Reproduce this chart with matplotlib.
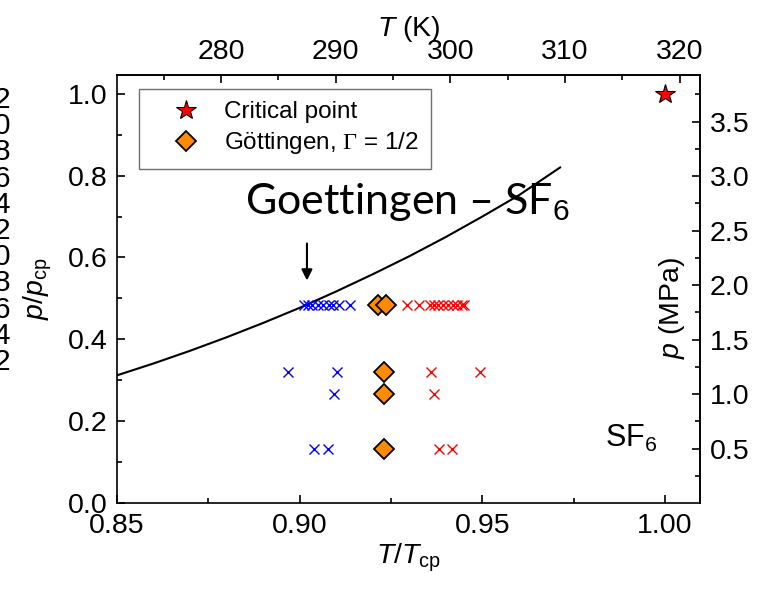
import matplotlib
matplotlib.use("Agg")
import matplotlib.pyplot as plt
from matplotlib.ticker import MultipleLocator, FormatStrFormatter, FixedLocator

plt.rcParams['font.family'] = ['Liberation Sans', 'DejaVu Sans']
plt.rcParams['mathtext.fontset'] = 'custom'
plt.rcParams['mathtext.rm'] = 'Liberation Sans'
plt.rcParams['mathtext.it'] = 'Liberation Sans:italic'
plt.rcParams['mathtext.sf'] = 'Liberation Serif'

# ---- data ----
Tc = 318.72   # K
pc = 3.755    # MPa

curve_x = [0.85, 0.86, 0.87, 0.88, 0.89, 0.90, 0.91, 0.92, 0.93, 0.94, 0.95, 0.96, 0.9713]
curve_y = [0.312, 0.341, 0.372, 0.405, 0.440, 0.477, 0.517, 0.559, 0.603, 0.650, 0.700, 0.752, 0.820]

crit_x = [1.0]
crit_y = [1.0]

gott_x = [0.9215, 0.9237, 0.9232, 0.9232, 0.9232]
gott_y = [0.483, 0.483, 0.320, 0.266, 0.132]

blue_x = [0.9012, 0.9024, 0.9035, 0.9051, 0.9064, 0.9079, 0.9092, 0.9107, 0.9138,
          0.8968, 0.9103, 0.9095, 0.9040, 0.9078]
blue_y = [0.483] * 9 + [0.320, 0.320, 0.266, 0.132, 0.132]

red_x = [0.9295, 0.9327, 0.9357, 0.9368, 0.9380, 0.9393, 0.9405, 0.9419, 0.9432, 0.9444, 0.9451,
         0.9360, 0.9495, 0.9368, 0.9382, 0.9418]
red_y = [0.483] * 11 + [0.320, 0.320, 0.266, 0.132, 0.132]

p_ticks = [0.5, 1.0, 1.5, 2.0, 2.5, 3.0, 3.5]
p_minor = [0.25, 0.75, 1.25, 1.75, 2.25, 2.75, 3.25, 3.75]

left_digits = ["2", "0", "8", "6", "4", "2", "0", "8", "6", "4", "2"]

# ---- figure ----
W, H = 768, 589
fig = plt.figure(figsize=(W / 100, H / 100), dpi=100)
ax = fig.add_axes([117 / W, 1 - 503 / H, (700 - 117) / W, (503 - 75) / H])

ax.plot(curve_x, curve_y, color='black', lw=1.5, zorder=2)
ax.plot(blue_x, blue_y, ls='none', marker='x', color='#0000FF', ms=7, mew=1.0, zorder=3)
ax.plot(red_x, red_y, ls='none', marker='x', color='#FF0000', ms=7, mew=1.0, zorder=3)
ax.plot(gott_x, gott_y, ls='none', marker='D', color='#FF8C00', mec='black', mew=1.3,
        ms=10, zorder=4, label=r'Göttingen, $\mathsf{\Gamma}$ = 1/2')
ax.plot(crit_x, crit_y, ls='none', marker='*', color='#FF0000', mec='black', mew=0.8,
        ms=15, zorder=4, label='Critical point')

ax.set_xlim(0.85, 1.0096)
ax.set_ylim(0.0, 1.046)

for s in ax.spines.values():
    s.set_linewidth(1.2)

ax.xaxis.set_major_locator(MultipleLocator(0.05))
ax.xaxis.set_minor_locator(MultipleLocator(0.025))
ax.yaxis.set_major_locator(MultipleLocator(0.2))
ax.yaxis.set_minor_locator(MultipleLocator(0.1))
ax.xaxis.set_major_formatter(FormatStrFormatter('%.2f'))
ax.yaxis.set_major_formatter(FormatStrFormatter('%.1f'))
ax.tick_params(which='both', direction='in', width=1.2, labelsize=20.5)
ax.tick_params(which='major', length=6, pad=7)
ax.tick_params(which='minor', length=3.5)

ax.set_xlabel(r'$T/T_{\mathrm{cp}}$', fontsize=20.5, labelpad=2)
ax.set_ylabel(r'$p/p_{\mathrm{cp}}$', fontsize=20.5, labelpad=10)

# top axis: temperature
top = ax.secondary_xaxis('top', functions=(lambda x: x * Tc, lambda t: t / Tc))
top.xaxis.set_major_locator(MultipleLocator(10))
top.xaxis.set_minor_locator(MultipleLocator(5))
top.tick_params(which='both', direction='in', width=1.2, labelsize=20.5)
top.tick_params(which='major', length=6, pad=7)
top.tick_params(which='minor', length=3.5)
top.set_xlabel(r'$T$ (K)', fontsize=20.5, labelpad=2)
top.spines['top'].set_linewidth(1.2)

# right axis: pressure
right = ax.secondary_yaxis('right', functions=(lambda y: y * pc, lambda p: p / pc))
right.yaxis.set_major_locator(FixedLocator(p_ticks))
right.yaxis.set_minor_locator(FixedLocator(p_minor))
right.yaxis.set_major_formatter(FormatStrFormatter('%.1f'))
right.tick_params(which='both', direction='in', width=1.2, labelsize=20.5)
right.tick_params(which='major', length=6, pad=7)
right.tick_params(which='minor', length=3.5)
right.spines['right'].set_linewidth(1.2)

# right-axis title placed as in reference (inside frame)
fig.text(672 / W, 1 - 308 / H, r'$p$ (MPa)', rotation=90, ha='center', va='center',
         fontsize=20.5)

# legend
handles, labels = ax.get_legend_handles_labels()
leg = ax.legend(handles[::-1], labels[::-1], loc='upper left',
                bbox_to_anchor=((139 - 117) / 583, (503 - 89) / 428),
                fontsize=17.5, frameon=True, fancybox=False, edgecolor='#707070',
                framealpha=1, borderpad=0.5, handletextpad=0.15, labelspacing=0.3,
                borderaxespad=0, handlelength=2.85)
leg.get_frame().set_linewidth(1.0)

# annotation text and arrow
ax.text(0.885, 0.707, r'Goettingen – SF$_6$', fontsize=31, family=['Lato', 'DejaVu Sans'],
        ha='left', va='baseline')
ax.annotate('', xy=(0.902, 0.537), xytext=(0.902, 0.641),
            arrowprops=dict(arrowstyle='-|>', color='black', lw=1.5, mutation_scale=16))

ax.text(0.9836, 0.137, r'SF$_6$', fontsize=22, ha='left', va='baseline')

# partially visible tick labels of a neighbouring panel at the far left edge
for i, d in enumerate(left_digits):
    fig.text(10 / W, 1 - (100 + i * 26.2) / H, d, ha='right', va='center', fontsize=21.5)

fig.savefig('out.png', dpi=100)
